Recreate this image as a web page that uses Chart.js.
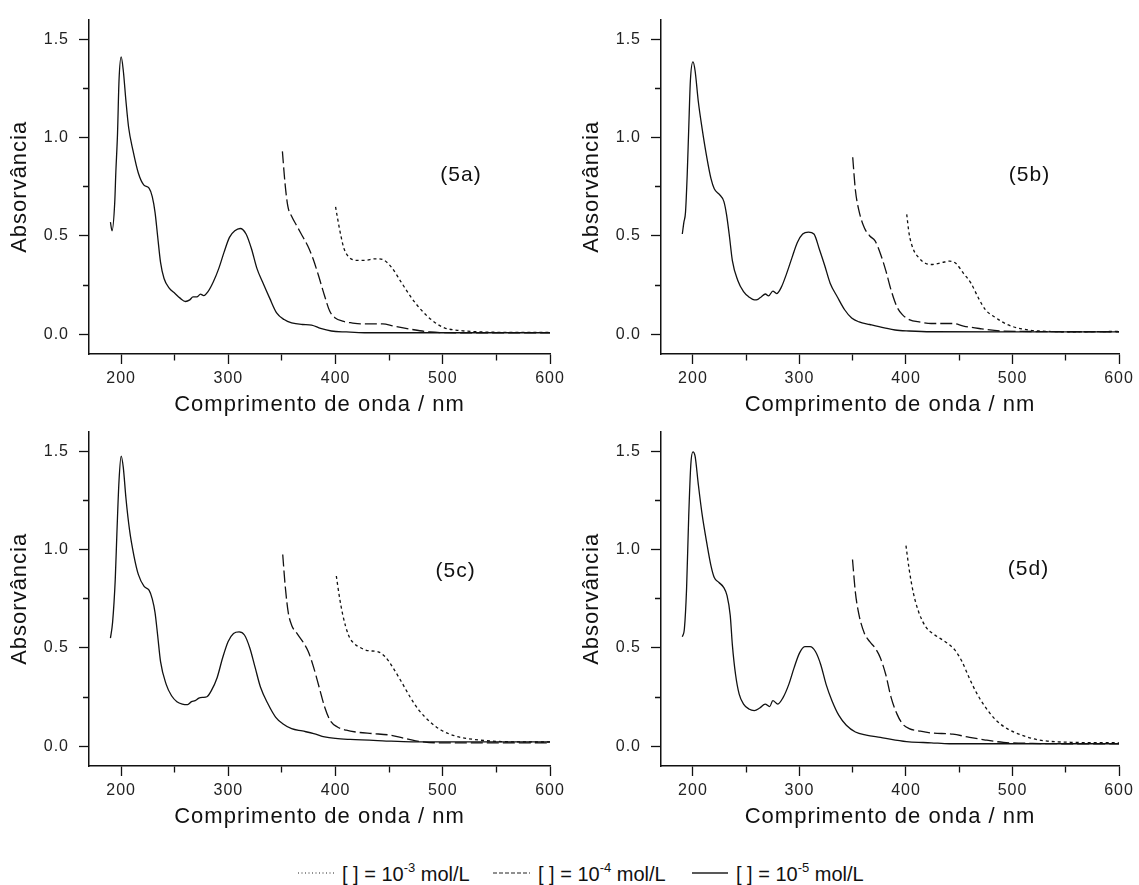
<!DOCTYPE html>
<html>
<head>
<meta charset="utf-8">
<script src="https://cdn.jsdelivr.net/npm/chart.js@4.4.1/dist/chart.umd.min.js"></script>
<style>
  body { margin: 0; background: #fff; width: 1139px; height: 885px; overflow: hidden; position: relative;
         font-family: "Liberation Sans", Arial, sans-serif; color: #111; }
  .panel { position: absolute; }
  .leg { position: absolute; top: 860px; height: 26px; display: flex; align-items: center; font-size: 20px; white-space: nowrap; }
  .leg svg { margin-right: 8px; }
  .leg sup { font-size: 13px; position: relative; top: -1px; }
</style>
</head>
<body>
<canvas id="p5a" class="panel" width="570" height="420" style="left:0;top:0"></canvas>
<canvas id="p5b" class="panel" width="567" height="420" style="left:572px;top:0"></canvas>
<canvas id="p5c" class="panel" width="570" height="420" style="left:0;top:412px"></canvas>
<canvas id="p5d" class="panel" width="567" height="420" style="left:572px;top:412px"></canvas>

<div class="leg" style="left:298px"><svg width="36" height="4"><line x1="0" y1="2" x2="36" y2="2" stroke="#222" stroke-width="1.2" stroke-dasharray="1 2.5"/></svg><span>[ ] = 10<sup>-3</sup> mol/L</span></div>
<div class="leg" style="left:493px"><svg width="37" height="4"><line x1="0" y1="2" x2="37" y2="2" stroke="#222" stroke-width="1.2" stroke-dasharray="4 2"/></svg><span>[ ] = 10<sup>-4</sup> mol/L</span></div>
<div class="leg" style="left:692px"><svg width="36" height="4"><line x1="0" y1="2" x2="36" y2="2" stroke="#222" stroke-width="1.3"/></svg><span>[ ] = 10<sup>-5</sup> mol/L</span></div>

<script>
const FONT = '"Liberation Sans", Arial, sans-serif';

// [wavelength nm, absorbance]
const s5a_e5 = [[190,0.57],[191.5,0.526],[194,0.67],[195,0.82],[196.6,1.02],[198,1.29],[200,1.41],[202,1.34],[204.4,1.19],[207,1.05],[211,0.935],[216,0.82],[221,0.76],[226,0.743],[229,0.70],[231.6,0.62],[234,0.50],[236.7,0.367],[240,0.284],[245,0.234],[250,0.209],[255,0.184],[260,0.167],[264,0.175],[267,0.19],[270.6,0.19],[274,0.204],[277,0.197],[281,0.217],[286,0.267],[291,0.334],[296,0.418],[301,0.493],[306,0.526],[311,0.538],[316.5,0.51],[321.6,0.434],[326.7,0.334],[331.8,0.267],[338.5,0.184],[345,0.109],[352,0.075],[359,0.058],[369,0.05],[377.6,0.047],[386,0.03],[396,0.017],[410,0.012],[427,0.008],[460,0.008],[500,0.008],[550,0.008],[600,0.008]];
const s5a_e4 = [[350.4,0.93],[352.8,0.77],[355.5,0.65],[359,0.60],[364,0.55],[369,0.50],[374,0.45],[379,0.384],[384,0.30],[389.5,0.20],[394.6,0.117],[399.7,0.083],[406.5,0.067],[415,0.058],[423.4,0.053],[444,0.053],[454,0.042],[471,0.025],[488,0.012],[511.7,0.008],[550,0.008],[600,0.008]];
const s5a_e3 = [[400,0.648],[401.5,0.60],[405,0.50],[408,0.434],[413,0.39],[420,0.376],[427,0.376],[437,0.384],[444,0.38],[452,0.342],[461,0.267],[471,0.184],[481,0.117],[491,0.067],[501.5,0.033],[515,0.02],[532,0.013],[562.6,0.01],[600,0.01]];

const s5b_e5 = [[190,0.51],[191.5,0.57],[193,0.62],[194.6,0.81],[196,1.04],[197.6,1.29],[200,1.385],[202,1.34],[205,1.185],[208.5,1.05],[213,0.90],[217,0.79],[220,0.74],[225,0.71],[229,0.676],[231.5,0.61],[234,0.51],[237,0.375],[242,0.275],[247.5,0.217],[252.5,0.19],[257.6,0.175],[261,0.178],[264,0.19],[268,0.205],[271,0.195],[275,0.22],[278.6,0.207],[283,0.24],[288,0.31],[293,0.39],[298,0.467],[303,0.51],[308.5,0.52],[313.6,0.51],[318.6,0.434],[323.7,0.35],[328.8,0.26],[335.6,0.19],[342.4,0.125],[349,0.083],[356,0.063],[366,0.05],[379.7,0.033],[389.8,0.022],[403,0.017],[423.7,0.013],[500,0.012],[600,0.012]];
const s5b_e4 = [[350,0.90],[352.5,0.734],[356,0.625],[361,0.54],[366,0.50],[371,0.475],[376,0.41],[381,0.325],[386,0.225],[391.5,0.14],[396.6,0.10],[403,0.075],[413.6,0.062],[423.7,0.055],[444,0.055],[454,0.042],[471,0.028],[488,0.017],[508.5,0.015],[550,0.013],[600,0.013]];
const s5b_e3 = [[400.7,0.61],[403,0.51],[406.8,0.434],[412,0.39],[418.6,0.36],[425,0.355],[434,0.365],[441,0.372],[447,0.36],[454,0.31],[461,0.26],[468,0.185],[474.6,0.125],[484.7,0.083],[495,0.05],[508.5,0.028],[525,0.017],[560,0.013],[600,0.015]];

const s5c_e5 = [[190,0.55],[192,0.63],[194.5,0.85],[196,1.08],[198,1.35],[200,1.475],[202,1.417],[204.4,1.265],[207.8,1.10],[212,0.966],[216,0.874],[221.4,0.813],[226,0.794],[229,0.75],[231.6,0.68],[234,0.566],[236.7,0.432],[242,0.315],[247,0.257],[252,0.227],[257,0.215],[262,0.212],[265.6,0.227],[269,0.232],[272.4,0.245],[276,0.249],[280,0.252],[284,0.282],[289.5,0.349],[294.6,0.449],[299.7,0.532],[304.8,0.574],[310,0.582],[315,0.566],[320,0.50],[325,0.40],[330,0.30],[337,0.215],[344,0.149],[350.7,0.115],[359,0.09],[369,0.078],[379.6,0.065],[389.8,0.048],[400,0.04],[413.6,0.035],[444,0.028],[471.4,0.023],[529,0.023],[600,0.023]];
const s5c_e4 = [[350.7,0.975],[353,0.816],[355.8,0.682],[359,0.616],[364,0.574],[369.4,0.532],[374.5,0.482],[379.6,0.40],[384.7,0.30],[389.8,0.20],[394.9,0.132],[401.7,0.098],[410,0.082],[420,0.072],[434,0.065],[451,0.057],[464.6,0.04],[474.8,0.028],[495,0.018],[529,0.018],[600,0.018]];
const s5c_e3 = [[400.7,0.866],[403.4,0.766],[406.8,0.666],[412,0.566],[417,0.524],[423.8,0.50],[430.6,0.486],[439,0.482],[446,0.457],[452.7,0.407],[461,0.332],[469.7,0.249],[478,0.182],[488.4,0.123],[498.6,0.082],[512,0.052],[529,0.035],[563,0.023],[600,0.022]];

const s5d_e5 = [[190,0.557],[192,0.60],[194,0.80],[196,1.166],[198,1.433],[200,1.497],[202,1.475],[205,1.333],[208.5,1.183],[213,1.033],[217,0.916],[220,0.858],[224.4,0.833],[228.8,0.808],[232,0.766],[235,0.666],[237,0.516],[240,0.365],[243.4,0.265],[247.5,0.215],[252.5,0.19],[257.6,0.182],[262.7,0.195],[267.8,0.215],[272,0.202],[275,0.232],[279.7,0.215],[284.7,0.249],[290,0.315],[295,0.40],[300,0.474],[305,0.507],[310,0.507],[315,0.482],[320,0.415],[325,0.315],[330.5,0.232],[337,0.157],[344,0.107],[352.5,0.073],[362.7,0.057],[376,0.045],[390,0.032],[403,0.023],[423.7,0.018],[440.7,0.013],[520,0.013],[600,0.013]];
const s5d_e4 = [[349.8,0.95],[352.5,0.783],[356,0.666],[361,0.574],[366,0.532],[371,0.50],[376,0.449],[381,0.365],[386,0.249],[391.5,0.165],[396.6,0.115],[403,0.09],[413.6,0.077],[423.7,0.068],[444,0.062],[457.6,0.048],[474.6,0.032],[491.5,0.02],[518.6,0.015],[560,0.013],[600,0.013]];
const s5d_e3 = [[400,1.02],[403,0.90],[406.8,0.783],[412,0.682],[418.6,0.607],[425,0.574],[432,0.549],[439,0.524],[445.8,0.49],[452.5,0.432],[459.3,0.349],[466,0.274],[474.6,0.199],[484.7,0.132],[495,0.09],[508.5,0.057],[525.4,0.032],[559,0.02],[600,0.018]];

const panelIds = ['p5a', 'p5b', 'p5c', 'p5d'];
const panelTags = ['(5a)', '(5b)', '(5c)', '(5d)'];
const tagX = [517, 516, 512, 515];
const tagY = [0.81, 0.81, 0.89, 0.90];
const panelSeries = [
  [s5a_e3, s5a_e4, s5a_e5],
  [s5b_e3, s5b_e4, s5b_e5],
  [s5c_e3, s5c_e4, s5c_e5],
  [s5d_e3, s5d_e4, s5d_e5]
];
const seriesNames = ['10-3 mol/L', '10-4 mol/L', '10-5 mol/L'];
const seriesDash = [[3, 3], [12, 4], []];

const INK = '#111';

// small spacing like the original figure's text
const spacingPlugin = {
  id: 'spacing',
  beforeUpdate(chart) { chart.ctx.letterSpacing = '1px'; },
  beforeDraw(chart) { chart.ctx.letterSpacing = '1px'; }
};

const tagPlugin = {
  id: 'tag',
  afterDatasetsDraw(chart, args, opts) {
    const ctx = chart.ctx;
    ctx.save();
    ctx.font = '21px ' + FONT;
    ctx.fillStyle = INK;
    ctx.textAlign = 'center';
    ctx.textBaseline = 'middle';
    ctx.fillText(opts.text, chart.scales.x.getPixelForValue(opts.x), chart.scales.y.getPixelForValue(opts.y));
    ctx.restore();
  }
};

function isMajor(v, step) {
  return Math.abs(v / step - Math.round(v / step)) < 1e-6;
}

function makePanel(i) {
  const datasets = panelSeries[i].map((pts, k) => ({
    label: seriesNames[k],
    data: pts.map(p => ({ x: p[0], y: p[1] })),
    borderColor: INK,
    borderWidth: 1.3,
    borderDash: seriesDash[k],
    pointRadius: 0,
    fill: false,
    cubicInterpolationMode: 'monotone'
  }));

  new Chart(document.getElementById(panelIds[i]), {
    type: 'line',
    data: { datasets },
    plugins: [spacingPlugin, tagPlugin],
    options: {
      responsive: false,
      animation: false,
      devicePixelRatio: 1,
      layout: { padding: { left: 0, right: 20, top: 15, bottom: 0 } },
      plugins: {
        legend: { display: false },
        tooltip: { enabled: false },
        tag: { text: panelTags[i], x: tagX[i], y: tagY[i] }
      },
      scales: {
        x: {
          type: 'linear', min: 170, max: 600,
          afterFit: s => { s.height = 66; },
          border: { color: INK, width: 1.5 },
          grid: {
            drawOnChartArea: false, tickLength: 10, tickWidth: 1.3, tickColor: INK,
            tickBorderDash: c => isMajor(c.tick.value, 100) ? [] : [6, 100]
          },
          ticks: {
            stepSize: 50, includeBounds: false, autoSkip: false, maxRotation: 0, padding: 5,
            color: '#222', font: { size: 16, family: FONT },
            callback: v => isMajor(v, 100) ? String(v) : ''
          },
          title: {
            display: true, text: 'Comprimento de onda / nm', color: INK,
            font: { size: 22, family: FONT }, padding: { top: 0, bottom: 2 }
          }
        },
        y: {
          type: 'linear', min: -0.1, max: 1.6,
          afterFit: s => { s.width = 89; },
          border: { color: INK, width: 1.5 },
          grid: {
            drawOnChartArea: false, tickLength: 10, tickWidth: 1.3, tickColor: INK,
            tickBorderDash: c => isMajor(c.tick.value, 0.5) ? [] : [0, 4, 6, 100]
          },
          ticks: {
            stepSize: 0.25, includeBounds: false, autoSkip: false, padding: 10,
            color: '#222', font: { size: 16, family: FONT },
            callback: v => isMajor(v, 0.5) ? v.toFixed(1) : ''
          },
          title: {
            display: true, text: 'Absorvância', color: INK,
            font: { size: 22, family: FONT }, padding: { top: 7, bottom: 0 }
          }
        }
      }
    }
  });
}

panelIds.forEach((id, i) => makePanel(i));
</script>
</body>
</html>
